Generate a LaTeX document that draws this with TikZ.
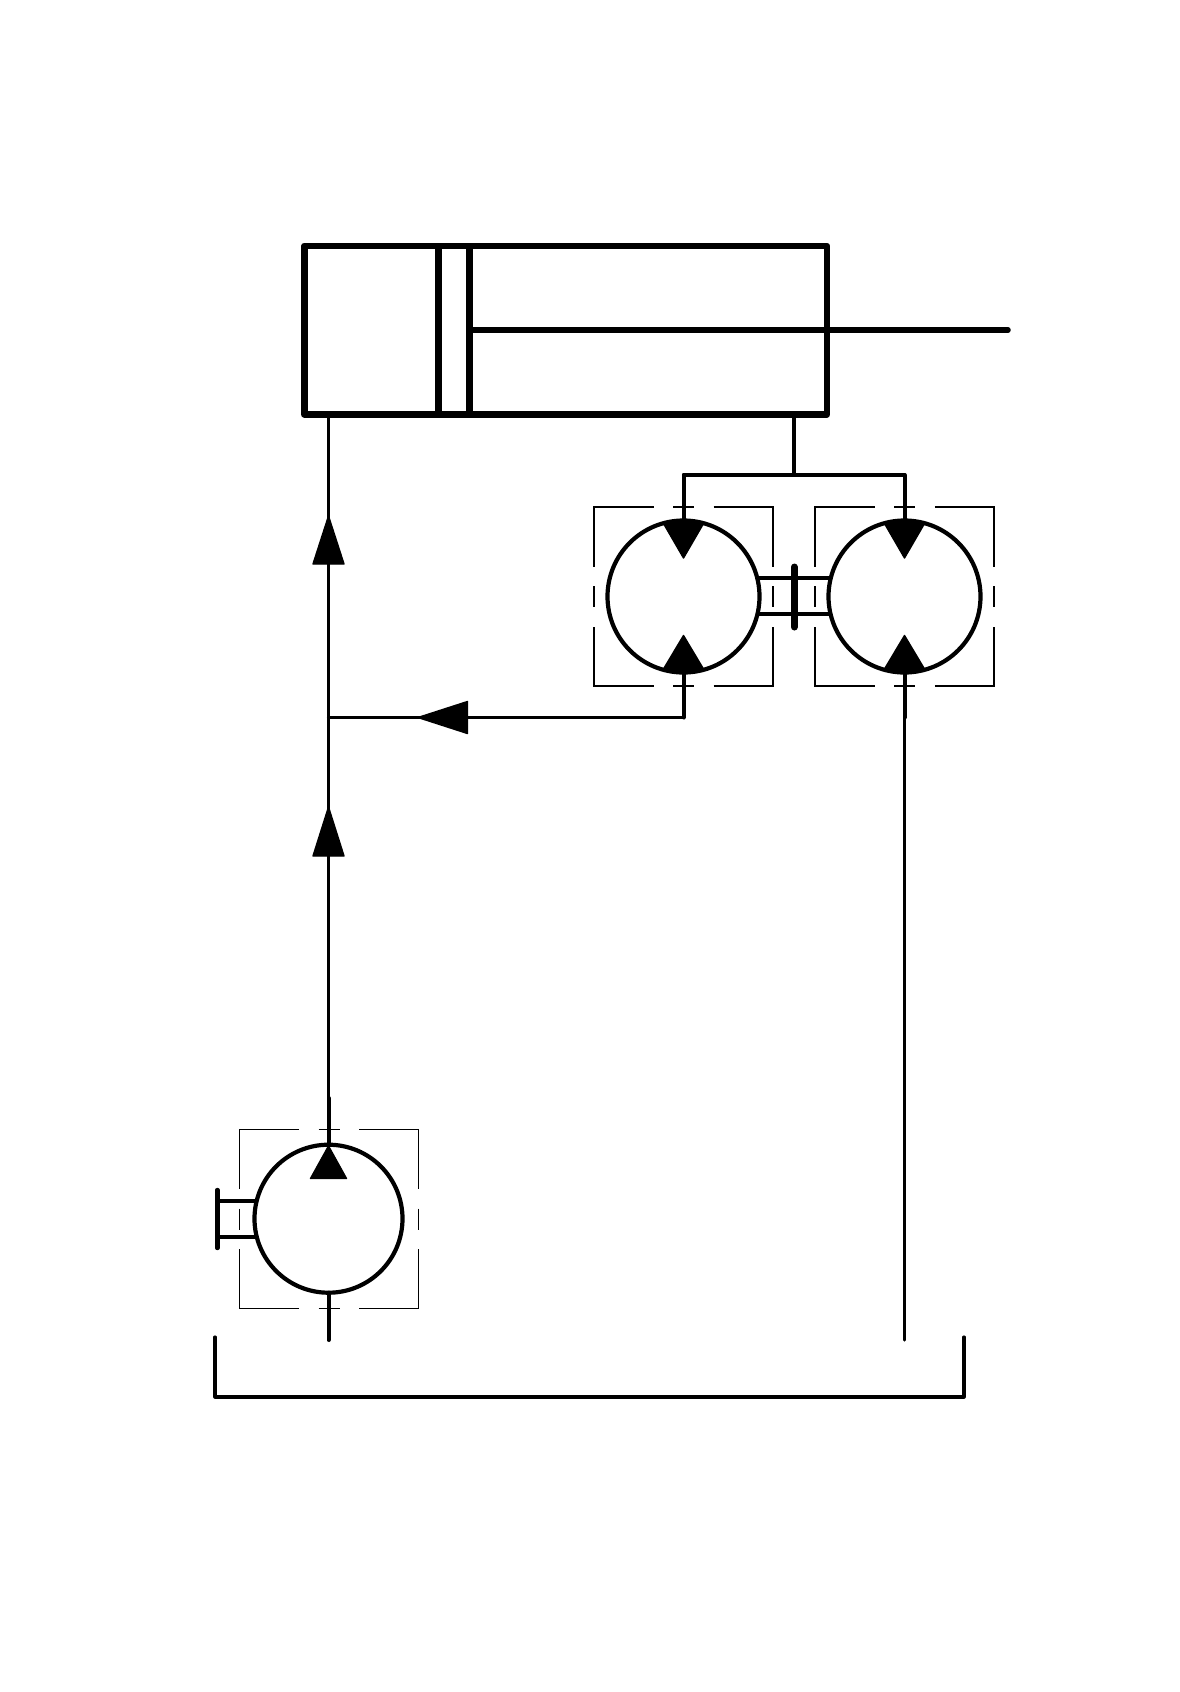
\documentclass[tikz,border=0pt]{standalone}
\newcommand{\casebox}[2]{%
  \begin{scope}[shift={(#1,#2)},thinline]
    \draw (-30,-89.5) -- (-89.5,-89.5) -- (-89.5,-30);
    \draw (30,-89.5) -- (89.5,-89.5) -- (89.5,-30);
    \draw (-30,89.5) -- (-89.5,89.5) -- (-89.5,30);
    \draw (30,89.5) -- (89.5,89.5) -- (89.5,30);
    \draw (-10.5,-89.5) -- (10.5,-89.5);
    \draw (-10.5,89.5) -- (10.5,89.5);
    \draw (-89.5,-10.5) -- (-89.5,10.5);
    \draw (89.5,-10.5) -- (89.5,10.5);
  \end{scope}}
\newcommand{\topwedge}[2]{%
  \fill[wedge] (#1,#2+37.5) -- (#1-20,#2+3) -- (#1,#2-1) -- (#1+20,#2+3) -- cycle;}
\newcommand{\botwedge}[2]{%
  \fill[wedge] (#1,#2-36.5) -- (#1-20,#2-3) -- (#1,#2+1) -- (#1+20,#2-3) -- cycle;}
\begin{document}
\begin{tikzpicture}[x=1pt,y=-1pt,
  thinline/.style={line width=1.9pt,line cap=butt},
  line/.style={line width=3.1pt,line cap=round,line join=round},
  stem/.style={line width=4pt,line cap=round,line join=round},
  heavy/.style={line width=6.5pt,line cap=round,line join=round},
  bar/.style={line width=7pt,line cap=round},
  wedge/.style={draw=black,line width=1.4pt,line join=round,fill=black},
  machine/.style={circle,draw=black,line width=4.2pt,inner sep=0pt,outer sep=0pt,minimum size=#1}]
\useasboundingbox (0,0) rectangle (1180,1692);
\fill[white] (0,0) rectangle (1180,1692);

% case drain boxes
\casebox{683.5}{596.7}
\casebox{904.8}{596.7}
\casebox{329}{1219}

% machines
\node[machine=152pt] (m1) at (683.5,596.5) {};
\node[machine=152pt] (m2) at (904.5,596.5) {};
\node[machine=148pt] (p1) at (328.5,1218.7) {};

% cylinder
\coordinate (cylTL) at (304.3,246);
\coordinate (cylTR) at (827,246);
\coordinate (cylBR) at (827,414.3);
\coordinate (cylBL) at (304.3,414.3);
\coordinate (pis1T) at (438.3,243);
\coordinate (pis1B) at (438.3,417);
\coordinate (pis2T) at (469.3,243);
\coordinate (pis2B) at (469.3,417);
\coordinate (rodS) at (469.3,330);
\coordinate (rodE) at (1008,330);
\draw[heavy] (cylTL) -- (cylTR) -- (cylBR) -- (cylBL) -- cycle;
\draw[heavy,line cap=butt] (pis1T) -- (pis1B);
\draw[heavy,line cap=butt] (pis2T) -- (pis2B);
\draw[line width=5.5pt,line cap=round] (rodS) -- (rodE);

% wedges on the machines
\topwedge{683.5}{520.5}
\botwedge{683.5}{672}
\topwedge{904.5}{520.5}
\botwedge{904.5}{672}
\fill[wedge] (328.5,1146) -- (310.5,1178.5) -- (346.5,1178.5) -- cycle;

% shaft between motors
\draw[stem,line cap=butt] (m1.east |- 0,577.7) ++(-1,0) -- (m2.west |- 0,577.7);
\draw[stem,line cap=butt] (m1.east |- 0,613.7) ++(-1,0) -- (m2.west |- 0,613.7);
\coordinate (barT) at (794.3,567);
\coordinate (barB) at (794.3,627);
\draw[bar] (barT) -- (barB);

% pump shaft
\coordinate (pbarT) at (217.3,1190);
\coordinate (pbarB) at (217.3,1248);
\coordinate (ps1) at (217.3,1201.3);
\coordinate (ps2) at (217.3,1236.7);
\coordinate (pe1) at (257,1201.3);
\coordinate (pe2) at (257,1236.7);
\draw[line width=4.4pt,line cap=round] (pbarT) -- (pbarB);
\draw[stem,line cap=butt] (ps1) -- (pe1);
\draw[stem,line cap=butt] (ps2) -- (pe2);

% pipework
\coordinate (feedTop) at (794,414.3);
\coordinate (feedJ) at (794,475);
\coordinate (feedL) at (683.5,475);
\coordinate (feedR) at (904.5,475);
\coordinate (ret) at (683.5,717.5);
\coordinate (retS) at (904.5,717.5);
\coordinate (mainJ) at (328.5,717.5);
\coordinate (mainTop) at (328.5,414.3);
\coordinate (pumpTop) at (328.5,1098);
\coordinate (pumpOut) at (328.5,1340);
\coordinate (m2Out) at (904.5,1340);
\draw[line] (feedTop) -- (feedJ);
\draw[line] (feedL) -- (feedR);
\draw[stem] (feedL) -- (m1.north);
\draw[stem] (feedR) -- (m2.north);
\draw[stem] (m1.south) -- (ret);
\draw[line] (ret) -- (mainJ);
\draw[stem] (m2.south) -- (retS);
\draw[line] (retS) -- (m2Out);
\draw[line] (mainTop) -- (pumpTop);
\draw[stem] (pumpTop) -- (p1.north);
\draw[stem] (p1.south) -- (pumpOut);

% flow arrowheads
\fill[wedge] (328.5,516) -- (313,564) -- (344,564) -- cycle;
\fill[wedge] (328.5,807) -- (313,856) -- (344,856) -- cycle;
\fill[wedge] (418,717.5) -- (467.5,701.5) -- (467.5,733.5) -- cycle;

% tank
\coordinate (tankL) at (215,1337);
\coordinate (tankBL) at (215,1397);
\coordinate (tankBR) at (964,1397);
\coordinate (tankR) at (964,1337);
\draw[line] (tankL) -- (tankBL) -- (tankBR) -- (tankR);
\end{tikzpicture}
\end{document}
